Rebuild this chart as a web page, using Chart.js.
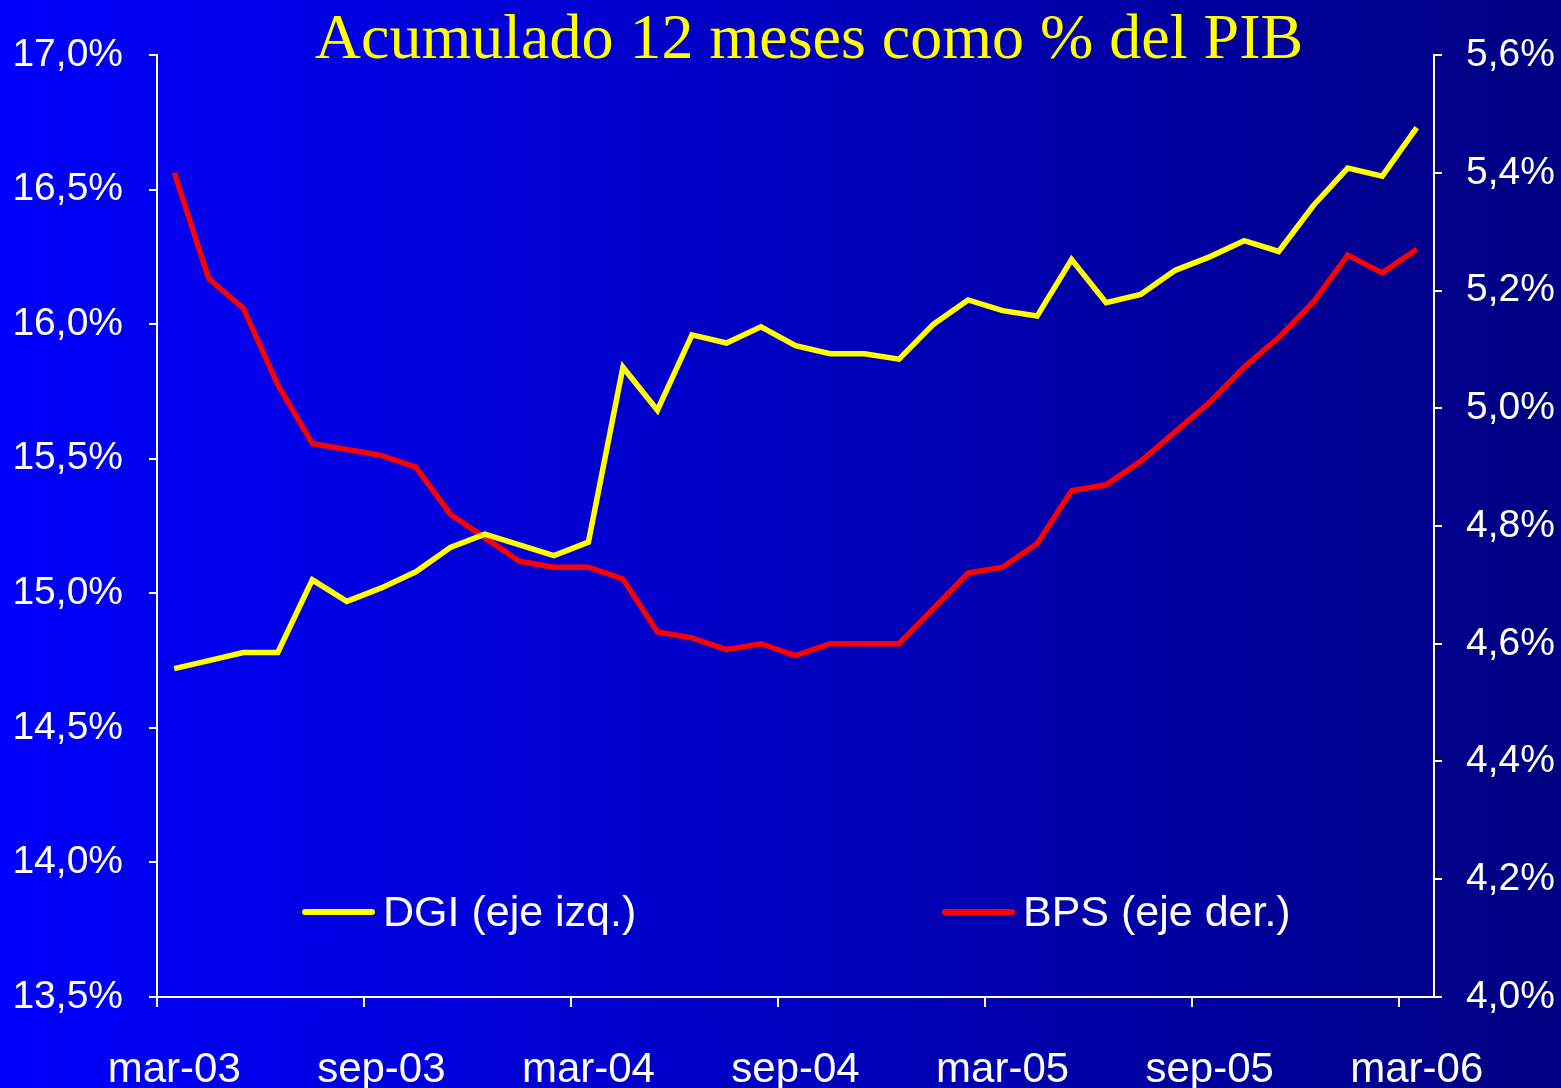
<!DOCTYPE html>
<html>
<head>
<meta charset="utf-8">
<script src="https://cdn.jsdelivr.net/npm/chart.js@4.4.0/dist/chart.umd.min.js"></script>
<style>
    body { margin: 0; background: #0000c0; }
    #wrap { width: 1561px; height: 1088px; }
</style>
</head>
<body>
<div id="wrap"><canvas id="chart" width="1561" height="1088"></canvas></div>
<script>
// Months, mar-03 .. mar-06
const months = [
    'mar-03', 'abr-03', 'may-03', 'jun-03', 'jul-03', 'ago-03', 'sep-03', 'oct-03', 'nov-03', 'dic-03', 'ene-04', 'feb-04',
    'mar-04', 'abr-04', 'may-04', 'jun-04', 'jul-04', 'ago-04', 'sep-04', 'oct-04', 'nov-04', 'dic-04', 'ene-05', 'feb-05',
    'mar-05', 'abr-05', 'may-05', 'jun-05', 'jul-05', 'ago-05', 'sep-05', 'oct-05', 'nov-05', 'dic-05', 'ene-06', 'feb-06',
    'mar-06'
];

// DGI, % del PIB (eje izq.)
const dgi = [
    14.72, 14.75, 14.78, 14.78, 15.05, 14.97, 15.02, 15.08, 15.17, 15.22, 15.18, 15.14,
    15.19, 15.84, 15.68, 15.96, 15.93, 15.99, 15.92, 15.89, 15.89, 15.87, 16.00, 16.09,
    16.05, 16.03, 16.24, 16.08, 16.11, 16.20, 16.25, 16.31, 16.27, 16.44, 16.58, 16.55,
    16.73
];

// BPS, % del PIB (eje der.)
const bps = [
    5.40, 5.22, 5.17, 5.04, 4.94, 4.93, 4.92, 4.90, 4.82, 4.78, 4.74, 4.73,
    4.73, 4.71, 4.62, 4.61, 4.59, 4.60, 4.58, 4.60, 4.60, 4.60, 4.66, 4.72,
    4.73, 4.77, 4.86, 4.87, 4.91, 4.96, 5.01, 5.07, 5.12, 5.18, 5.26, 5.23,
    5.27
];

const title = 'Acumulado 12 meses como % del PIB';
const seriesNames = ['DGI (eje izq.)', 'BPS (eje der.)'];

const sans = "'Liberation Sans', Arial, sans-serif";
const pct = v => Number(v).toFixed(1).replace('.', ',') + '%';

// Gradient background, title and legend
const decor = {
    id: 'decor',
    beforeDraw(chart) {
        const ctx = chart.ctx;
        const g = ctx.createLinearGradient(0, 0, chart.width, 0);
        g.addColorStop(0, 'rgb(0,0,255)');
        g.addColorStop(1, 'rgb(0,0,130)');
        ctx.save();
        ctx.fillStyle = g;
        ctx.fillRect(0, 0, chart.width, chart.height);
        ctx.restore();
    },
    afterDraw(chart) {
        const ctx = chart.ctx;
        ctx.save();
        ctx.fillStyle = '#ffff00';
        ctx.font = "64px 'Liberation Serif', 'Times New Roman', serif";
        ctx.textAlign = 'center';
        ctx.textBaseline = 'alphabetic';
        ctx.fillText(title, 809, 58);

        const items = [
            { x: 305, color: '#ffff00', text: seriesNames[0] },
            { x: 945, color: '#ff0000', text: seriesNames[1] }
        ];
        ctx.font = '43px ' + sans;
        ctx.textAlign = 'left';
        ctx.textBaseline = 'middle';
        items.forEach(it => {
            ctx.strokeStyle = it.color;
            ctx.lineWidth = 6;
            ctx.lineCap = 'round';
            ctx.beginPath();
            ctx.moveTo(it.x, 912);
            ctx.lineTo(it.x + 67, 912);
            ctx.stroke();
            ctx.fillStyle = '#ffffff';
            ctx.fillText(it.text, it.x + 78, 914);
        });
        ctx.restore();
    }
};

new Chart(document.getElementById('chart'), {
    type: 'line',
    data: {
        labels: months,
        datasets: [
            {
                label: seriesNames[0],
                data: dgi,
                yAxisID: 'y',
                borderColor: '#ffff00',
                borderWidth: 5.5,
                pointRadius: 0,
                tension: 0
            },
            {
                label: seriesNames[1],
                data: bps,
                yAxisID: 'y1',
                borderColor: '#ff0000',
                borderWidth: 5.5,
                pointRadius: 0,
                tension: 0
            }
        ]
    },
    options: {
        responsive: false,
        animation: false,
        layout: { padding: { top: 55, left: 0, right: 0, bottom: 0 } },
        plugins: {
            legend: { display: false },
            tooltip: { enabled: false }
        },
        scales: {
            x: {
                offset: true,
                grid: {
                    offset: true,
                    drawOnChartArea: false,
                    tickLength: 10,
                    lineWidth: 2,
                    tickColor: c => (c.index % 6 === 0 ? '#ffffff' : 'rgba(0,0,0,0)')
                },
                border: { color: '#ffffff', width: 2 },
                ticks: {
                    autoSkip: false,
                    maxRotation: 0,
                    padding: 38,
                    color: '#ffffff',
                    font: { family: sans, size: 42 },
                    callback: function (val, index) {
                        return index % 6 === 0 ? this.getLabelForValue(val) : '';
                    }
                },
                afterFit: s => { s.height = 91; }
            },
            y: {
                position: 'left',
                min: 13.5,
                max: 17.0,
                grid: { drawOnChartArea: false, tickLength: 8, color: '#ffffff', lineWidth: 2 },
                border: { color: '#ffffff', width: 2 },
                ticks: {
                    stepSize: 0.5,
                    padding: 26,
                    color: '#ffffff',
                    font: { family: sans, size: 39 },
                    callback: v => pct(v)
                },
                afterFit: s => { s.width = 157; }
            },
            y1: {
                position: 'right',
                min: 4.0,
                max: 5.6,
                grid: { drawOnChartArea: false, tickLength: 8, color: '#ffffff', lineWidth: 2 },
                border: { color: '#ffffff', width: 2 },
                ticks: {
                    stepSize: 0.2,
                    padding: 24,
                    color: '#ffffff',
                    font: { family: sans, size: 39 },
                    callback: v => pct(v)
                },
                afterFit: s => { s.width = 127; }
            }
        }
    },
    plugins: [decor]
});
</script>
</body>
</html>
